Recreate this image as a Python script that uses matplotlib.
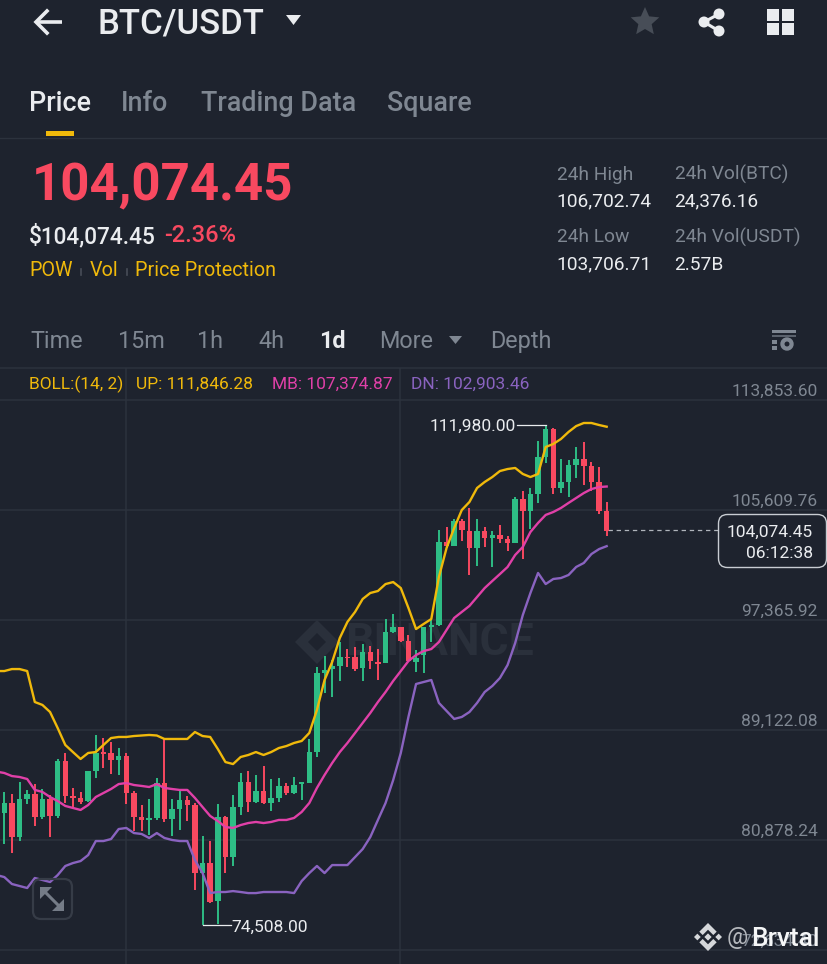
import numpy as np
import matplotlib
matplotlib.use('Agg')
import matplotlib.pyplot as plt
from matplotlib.patches import Polygon, Rectangle, Circle, FancyBboxPatch

plt.rcParams['font.family'] = ['Roboto', 'DejaVu Sans']

# daily candles, in thousands of USDT
opens = [82.88, 83.63, 81.08, 83.95, 84.33, 82.58, 83.95, 82.68, 86.80, 84.18,
         84.05, 83.80, 86.05, 87.45, 87.37, 86.87, 87.17, 84.43, 82.60, 82.40,
         82.50, 85.13, 82.48, 83.18, 83.88, 83.50, 78.43, 79.13, 76.31, 82.58,
         79.58, 83.38, 85.22, 83.70, 84.58, 83.63, 84.00, 84.93, 84.43, 85.10,
         85.18, 87.47, 93.42, 93.70, 93.94, 94.62, 94.57, 93.74, 94.97, 94.20,
         94.12, 96.49, 96.87, 95.82, 94.24, 94.74, 96.82, 96.99, 103.21, 102.94,
         104.79, 104.06, 102.79, 104.04, 103.49, 103.74, 103.44, 103.11, 106.43, 105.56,
         106.81, 109.61, 111.68, 107.28, 107.73, 108.98, 109.41, 108.91, 107.73, 105.54]
highs = [84.50, 84.33, 85.25, 84.63, 85.08, 84.70, 84.25, 86.95, 87.42, 84.80,
         84.50, 86.07, 88.75, 88.50, 88.25, 87.75, 87.42, 84.58, 83.50, 83.93,
         85.55, 88.42, 83.95, 84.58, 84.20, 83.68, 81.20, 80.83, 83.55, 82.70,
         84.25, 85.88, 86.07, 85.75, 86.45, 85.43, 85.50, 85.13, 85.62, 85.25,
         88.42, 93.87, 94.67, 94.37, 95.74, 95.17, 95.32, 95.57, 95.42, 95.17,
         97.42, 97.82, 96.87, 96.24, 95.12, 96.87, 97.42, 104.11, 104.31, 104.91,
         104.91, 105.74, 104.94, 104.31, 104.06, 104.49, 103.66, 106.61, 107.06, 107.23,
         110.81, 111.98, 111.73, 109.46, 109.36, 110.36, 110.68, 109.23, 108.86, 106.24]
lows = [80.58, 79.93, 80.83, 83.58, 81.95, 82.43, 81.08, 82.50, 83.63, 83.33,
        83.58, 83.75, 85.50, 86.25, 85.83, 85.75, 83.58, 81.58, 81.55, 81.25,
        82.38, 82.25, 81.18, 81.63, 82.33, 77.13, 74.51, 76.18, 74.58, 78.43,
        78.96, 82.75, 83.00, 83.63, 83.58, 83.08, 83.75, 84.25, 84.33, 83.88,
        85.13, 87.07, 91.92, 91.62, 92.82, 93.82, 93.57, 92.77, 93.70, 92.87,
        94.12, 96.37, 95.74, 94.24, 93.50, 93.37, 95.74, 96.92, 102.74, 102.91,
        103.31, 100.74, 101.41, 102.86, 101.36, 103.11, 102.56, 103.11, 101.96, 104.16,
        106.11, 109.16, 106.78, 106.86, 106.61, 107.98, 107.48, 107.06, 105.31, 103.66]
closes = [83.63, 81.08, 83.93, 84.33, 82.58, 83.95, 82.68, 86.82, 84.20, 84.03,
          83.75, 86.05, 87.37, 87.35, 86.87, 87.17, 84.38, 82.63, 82.38, 82.50,
          85.13, 82.45, 83.18, 83.88, 83.50, 78.43, 79.13, 76.26, 82.58, 79.58,
          83.38, 85.20, 83.75, 84.58, 83.63, 84.00, 84.93, 84.43, 85.02, 85.20,
          87.47, 93.42, 93.62, 93.92, 94.57, 94.52, 93.70, 94.94, 94.30, 94.10,
          96.44, 96.82, 95.82, 94.27, 94.49, 96.82, 96.99, 103.24, 102.94, 104.79,
          104.11, 102.79, 104.06, 103.49, 103.74, 103.46, 103.11, 106.43, 105.56, 106.81,
          109.61, 111.66, 107.28, 107.73, 108.96, 109.41, 108.93, 107.73, 105.56, 104.07]

# bollinger bands start one day earlier than the first visible candle
boll_up = [93.54, 93.54, 93.69, 93.69, 93.54, 91.22, 91.00, 90.47, 89.27, 88.00, 87.47,
           86.95, 87.40, 87.47, 88.00, 88.52, 88.60, 88.60, 88.67, 88.71, 88.75,
           88.71, 88.45, 88.45, 88.45, 88.45, 88.97, 88.67, 88.60, 87.70, 86.72,
           86.57, 87.10, 87.25, 87.47, 87.25, 87.47, 87.77, 87.92, 88.15, 88.30,
           88.90, 90.62, 92.87, 94.22, 96.02, 97.22, 97.97, 98.94, 99.39, 99.54,
           100.06, 100.21, 99.76, 98.27, 96.69, 97.07, 97.44, 100.59, 102.76, 104.26,
           105.61, 106.21, 107.26, 107.71, 108.08, 108.53, 108.68, 108.76, 108.31, 108.08,
           108.31, 110.33, 110.56, 110.93, 111.46, 111.90, 112.13, 112.13, 111.98, 111.85]
boll_mb = [86.00, 85.90, 85.67, 85.60, 85.45, 84.63, 84.48, 84.10, 83.80, 83.43, 83.28,
           83.13, 83.50, 84.10, 84.40, 84.70, 85.07, 85.15, 85.00, 84.93, 84.85,
           85.07, 84.78, 84.70, 84.63, 84.63, 84.03, 83.35, 82.68, 82.30, 81.85,
           81.78, 82.00, 82.15, 82.23, 82.15, 82.23, 82.38, 82.38, 82.53, 82.98,
           83.65, 84.78, 85.75, 86.65, 87.47, 88.15, 88.90, 89.65, 90.40, 91.22,
           91.97, 92.80, 93.54, 94.29, 94.74, 95.04, 95.19, 95.72, 96.62, 97.52,
           97.97, 98.42, 99.09, 99.76, 100.29, 100.81, 101.34, 102.24, 102.84, 103.96,
           104.64, 105.24, 105.46, 105.76, 106.14, 106.51, 106.88, 107.18, 107.33, 107.37]
boll_dn = [78.25, 78.10, 77.58, 77.43, 77.28, 78.03, 77.88, 77.73, 78.25, 78.93, 79.15,
           79.30, 79.75, 80.80, 80.80, 80.95, 81.70, 81.78, 81.40, 81.33, 81.03,
           81.40, 81.03, 80.88, 80.80, 80.80, 79.38, 78.40, 76.90, 76.98, 76.98,
           77.05, 76.98, 76.90, 76.90, 76.98, 76.98, 76.98, 76.98, 76.90, 77.80,
           78.40, 78.93, 78.40, 79.00, 79.00, 79.00, 79.60, 80.20, 81.10, 82.38,
           83.65, 85.37, 87.40, 90.10, 92.57, 92.72, 92.87, 91.15, 90.55, 89.95,
           90.10, 90.47, 91.15, 91.97, 92.42, 93.02, 93.99, 95.64, 97.74, 99.39,
           100.89, 100.06, 100.44, 100.51, 100.74, 101.34, 101.64, 102.31, 102.68, 102.90]

price_ticks = [113853.60, 105609.76, 97365.92, 89122.08, 80878.24, 72634.40]
last_price = 104074.45
high_mark = 111980.00
low_mark = 74508.00

BG = '#1e232e'
GRID = '#2c323d'
GREEN = '#2ebd85'
RED = '#f84960'
YELLOW = '#f0b90b'
PINK = '#e040a8'
PURPLE = '#8a63c0'
GREY = '#7f8792'
WHITE = '#eaecef'

fig = plt.figure(figsize=(8.28, 9.64), dpi=100, facecolor=BG)

# chart: full figure, x in candle index, y in price
ax = fig.add_axes([0, 0, 1, 1], facecolor=BG)
x0, step = 4.3, 7.625
ax.set_xlim(-x0 / step, (828 - x0) / step)
px_per_usd = 110 / (price_ticks[0] - price_ticks[1])
ax.set_ylim(price_ticks[0] - 564 / px_per_usd, price_ticks[0] + 400 / px_per_usd)
ax.axis('off')

o, h, l, c = [np.array(a) * 1000 for a in (opens, highs, lows, closes)]
idx = np.arange(len(o))
boll_idx = np.arange(-1, len(o))
cols = [GREEN if cc >= oo else RED for oo, cc in zip(o, c)]

y_top = price_ticks[0] + 32 / px_per_usd
ax.hlines(price_ticks + [y_top], *ax.get_xlim(), color=GRID, lw=1.1, zorder=1)
for px in (126.5, 400.5):
    ax.vlines((px - x0) / step, ax.get_ylim()[0], y_top, color=GRID, lw=1.1, zorder=1)

ax.vlines(idx, l, h, color=cols, lw=1.4, zorder=3)
ax.bar(idx, np.maximum(np.abs(c - o), 60), bottom=np.minimum(o, c), width=0.72,
       color=cols, linewidth=0, zorder=3)

ax.plot(boll_idx, np.array(boll_up) * 1000, color=YELLOW, lw=1.7, zorder=4)
ax.plot(boll_idx, np.array(boll_mb) * 1000, color=PINK, lw=1.7, zorder=4)
ax.plot(boll_idx, np.array(boll_dn) * 1000, color=PURPLE, lw=1.7, zorder=4)

# last price guide
ax.plot([idx[-1] + 0.2, (718 - x0) / step], [last_price, last_price],
        color='#b0b5bc', lw=0.9, dashes=(3.5, 3), zorder=2)

# high / low markers
ax.plot([(517 - x0) / step, idx[71]], [high_mark, high_mark], color=WHITE, lw=0.9, zorder=5)
ax.plot([(231 - x0) / step, idx[26]], [low_mark, low_mark], color=WHITE, lw=0.9, zorder=5)

# app chrome, in pixel coordinates
ui = fig.add_axes([0, 0, 1, 1], facecolor='none', zorder=5)
ui.set_xlim(0, 828)
ui.set_ylim(964, 0)
ui.axis('off')


def label(x, y, s, size, color=WHITE, ha='left', weight='normal', zorder=6):
    ui.text(x, y + 1.5, s, fontsize=size, color=color, ha=ha, va='center', fontweight=weight, zorder=zorder)


def binance_logo(cx, cy, r, color, zorder=1):
    def diamond(x, y, d):
        ui.add_patch(Polygon([(x - d, y), (x, y - d), (x + d, y), (x, y + d)], color=color, lw=0, zorder=zorder))
    diamond(cx, cy, r * 0.26)
    diamond(cx - r * 0.76, cy, r * 0.24)
    diamond(cx + r * 0.76, cy, r * 0.24)
    for sgn in (-1, 1):
        pts = [(cx, cy + sgn * r), (cx + r * 0.62, cy + sgn * r * 0.38), (cx + r * 0.38, cy + sgn * r * 0.14),
               (cx, cy + sgn * r * 0.52), (cx - r * 0.38, cy + sgn * r * 0.14), (cx - r * 0.62, cy + sgn * r * 0.38)]
        ui.add_patch(Polygon(pts, color=color, lw=0, zorder=zorder))


# watermark sits under the candles, so it goes on the chart axes level
ax.text((345 - x0) / step, price_ticks[0] - 243 / px_per_usd, 'BINANCE', fontsize=32, fontweight='bold',
        color='#2a303b', ha='left', va='center', zorder=2)
wm = Polygon([(295, 642), (317, 620), (339, 642), (317, 664)], closed=True, color='#2a303b', lw=0, zorder=2,
             transform=ui.transData)
ax.add_patch(wm)
wm_in = Polygon([(308, 642), (317, 633), (326, 642), (317, 651)], closed=True, color=BG, lw=0, zorder=2,
                transform=ui.transData)
ax.add_patch(wm_in)

# header
ui.plot([36, 62], [22, 22], color=WHITE, lw=2.6, solid_capstyle='butt')
ui.plot([47, 36, 47], [11, 22, 33], color=WHITE, lw=2.6, solid_joinstyle='miter')
label(98, 22, 'BTC/USDT', 25, weight='medium')
ui.add_patch(Polygon([(286, 15), (301, 15), (293.5, 25)], color=WHITE, lw=0))

ang = np.deg2rad(90 + 36 * np.arange(10))
rad = np.where(np.arange(10) % 2 == 0, 15, 7)
ui.add_patch(Polygon(np.c_[645 + rad * np.cos(ang), 22 - rad * np.sin(ang)], color='#474d57', lw=0,
                     joinstyle='round'))
ui.plot([719, 704, 719], [14, 22, 31], color=WHITE, lw=2.2)
for cx, cy in ((719, 14), (704, 22), (719, 31)):
    ui.add_patch(Circle((cx, cy), 5.5, color=WHITE, lw=0))
for gx in (767, 782):
    for gy in (9, 23):
        ui.add_patch(Rectangle((gx, gy), 12, 12, color=WHITE, lw=0))

label(29, 102, 'Price', 19.4, weight='medium')
label(121, 102, 'Info', 19.4, color=GREY, weight='medium')
label(201, 102, 'Trading Data', 19.4, color=GREY, weight='medium')
label(387, 102, 'Square', 19.4, color=GREY, weight='medium')
ui.add_patch(Rectangle((46, 131), 28, 5, color=YELLOW, lw=0))
ui.plot([0, 828], [137.5, 137.5], color=GRID, lw=1)

# price block
label(32, 185, '104,074.45', 36.7, color=RED, weight='bold')
label(29, 234.5, '$104,074.45', 16.3, weight='medium')
label(164, 234.5, '-2.36%', 17, color=RED, weight='medium')
label(29, 269, 'POW', 14.2, color=YELLOW)
label(90, 269, 'Vol', 14.2, color=YELLOW)
label(135, 269, 'Price Protection', 14.2, color=YELLOW)
ui.plot([81, 81], [269, 275], color='#474d57', lw=1.2)
ui.plot([127, 127], [269, 275], color='#474d57', lw=1.2)

label(557, 173, '24h High', 13.8, color=GREY)
label(556, 200, '106,702.74', 13.8)
label(557, 236, '24h Low', 13.8, color=GREY)
label(556, 263, '103,706.71', 13.8)
label(675, 173, '24h Vol(BTC)', 13.8, color=GREY)
label(674, 200, '24,376.16', 13.8)
label(675, 236, '24h Vol(USDT)', 13.8, color=GREY)
label(674, 263, '2.57B', 13.8)

# interval row
for x, s in ((30, 'Time'), (118, '15m'), (197, '1h'), (258, '4h'), (379, 'More'), (490, 'Depth')):
    label(x, 340, s, 16.8, color=GREY)
label(319, 340, '1d', 16.8, weight='bold')
ui.add_patch(Polygon([(449, 336), (462, 336), (455.5, 344)], color=GREY, lw=0))
ui.add_patch(Rectangle((772, 330), 24, 3, color=GREY, lw=0))
ui.add_patch(Rectangle((772, 335), 24, 2, color='#5a616c', lw=0))
ui.add_patch(Rectangle((772, 340), 5, 4, color=GREY, lw=0))
ui.add_patch(Rectangle((772, 346), 5, 4, color=GREY, lw=0))
ui.add_patch(Circle((787, 344), 4.6, fill=False, ec=GREY, lw=3))

# bollinger legend
label(29, 383, 'BOLL:(14, 2)', 12.5, color=YELLOW)
label(136, 383, 'UP: 111,846.28', 12.5, color=YELLOW)
label(272, 383, 'MB: 107,374.87', 12.5, color=PINK)
label(411, 383, 'DN: 102,903.46', 12.5, color=PURPLE)

# price axis labels
for k, p in enumerate(price_ticks):
    label(818, 390 + 110 * k, f'{p:,.2f}', 12.5, color=GREY, ha='right', zorder=2)

# last price box
ui.add_patch(FancyBboxPatch((718.5, 514.5), 108, 53, boxstyle='round,pad=0,rounding_size=9', fc=BG, ec='#c8ccd2',
                            lw=1, zorder=5))
label(813, 531, f'{last_price:,.2f}', 12.5, ha='right')
label(813, 552, '06:12:38', 12.5, ha='right')

label(430, 425, f'{high_mark:,.2f}', 12.5)
label(231, 926, f'{low_mark:,.2f}', 12.5)

# expand button
ui.add_patch(FancyBboxPatch((33, 879), 39, 40, boxstyle='round,pad=0,rounding_size=8', fc='none', ec='#363c47',
                            lw=1.6))
ui.plot([44, 60], [891, 907], color='#757c87', lw=2.2)
ui.add_patch(Polygon([(40, 887), (52, 887), (40, 899)], color='#757c87', lw=0))
ui.add_patch(Polygon([(64, 911), (52, 911), (64, 899)], color='#757c87', lw=0))

# reposter tag
binance_logo(708, 937, 14, '#d5d7da', zorder=7)
label(727, 936, '@', 17, color='#b5b8bd', zorder=7)
label(751, 937, 'Brvtal', 19, color='#f5f6f7', weight='medium', zorder=7)

fig.savefig('out.png', dpi=100, facecolor=BG)
